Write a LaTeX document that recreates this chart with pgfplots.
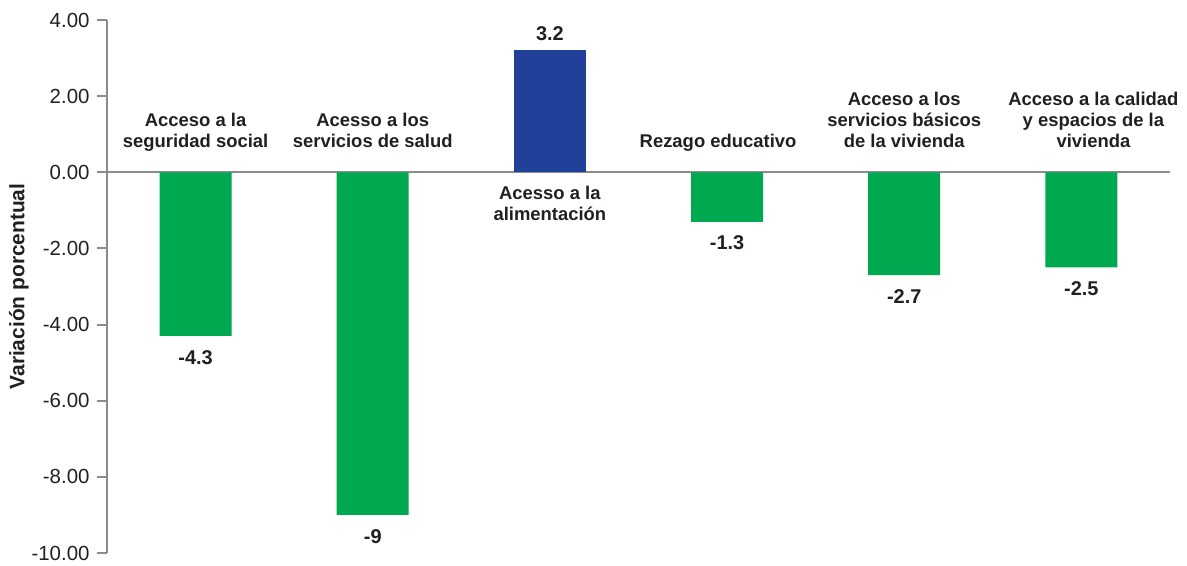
\documentclass[border=0pt]{standalone}
\usepackage{pgfplots}
\pgfplotsset{compat=1.18}
\usepackage{fontspec}
\setmainfont{Liberation Sans}

\definecolor{verde}{HTML}{00A94F}
\definecolor{azul}{HTML}{21409A}
\definecolor{eje}{HTML}{8C8C8E}
\definecolor{texto}{HTML}{231F20}

\begin{document}
\begin{tikzpicture}
  \useasboundingbox (-107bp,-13bp) rectangle (1080bp,553bp);
  \begin{axis}[
    at={(0,0)}, anchor=south west,
    scale only axis,
    width=1063bp, height=533bp,
    xmin=-0.5, xmax=5.5,
    ymin=-10, ymax=4,
    axis y line=left,
    axis x line=middle,
    x axis line style={-, eje, line width=2bp},
    y axis line style={-, eje, line width=2.5bp},
    xtick=\empty,
    ytick={-10,-8,...,4},
    tick align=outside,
    major tick length=10bp,
    ytick style={eje, line width=2bp},
    yticklabel style={
      font=\fontsize{20.5}{20.5}\selectfont, color=texto, xshift=-4bp,
      /pgf/number format/fixed,
      /pgf/number format/fixed zerofill,
      /pgf/number format/precision=2,
      /pgf/number format/assume math mode=true},
    ylabel={Variación porcentual},
    ylabel style={at={(axis description cs:-0.083,0.5)}, anchor=center,
      font=\fontsize{21}{21}\selectfont\bfseries, color=texto},
    clip=false,
  ]

  % barras negativas (verde)
  \addplot[ybar, bar width=72bp, bar shift=0pt, fill=verde, draw=none,
    point meta=explicit symbolic,
    nodes near coords,
    every node near coord/.append style={anchor=north, yshift=-14bp,
      inner sep=0pt, font=\fontsize{20}{20}\selectfont\bfseries, color=texto}]
    coordinates {(0,-4.3) [-4.3] (1,-9) [-9] (3,-1.3) [-1.3] (4,-2.7) [-2.7] (5,-2.5) [-2.5]};

  % barra positiva (azul)
  \addplot[ybar, bar width=72bp, bar shift=0pt, fill=azul, draw=none,
    point meta=explicit symbolic,
    nodes near coords,
    every node near coord/.append style={anchor=south, yshift=10bp,
      inner sep=0pt, font=\fontsize{20}{20}\selectfont\bfseries, color=texto}]
    coordinates {(2,3.2) [3.2]};

  % etiquetas de categorias
  \tikzset{cat/.style={align=center, inner sep=0pt, text depth=0pt,
    font=\fontsize{18.5}{21}\selectfont\bfseries, color=texto}}
  \node[cat, anchor=south, yshift=25bp] at (axis cs:0,0) {Acceso a la\\seguridad social};
  \node[cat, anchor=south, yshift=25bp] at (axis cs:1,0) {Acesso a los\\servicios de salud};
  \node[cat, anchor=north, yshift=-14bp] at (axis cs:2,0) {Acesso a la\\alimentación};
  \node[cat, anchor=south, yshift=25bp, xshift=-9bp] at (axis cs:3,0) {Rezago educativo};
  \node[cat, anchor=south, yshift=25bp] at (axis cs:4,0) {Acceso a los\\servicios básicos\\de la vivienda};
  \node[cat, anchor=south, yshift=25bp, xshift=12bp] at (axis cs:5,0) {Acceso a la calidad\\y espacios de la\\vivienda};
  \end{axis}
\end{tikzpicture}
\end{document}
